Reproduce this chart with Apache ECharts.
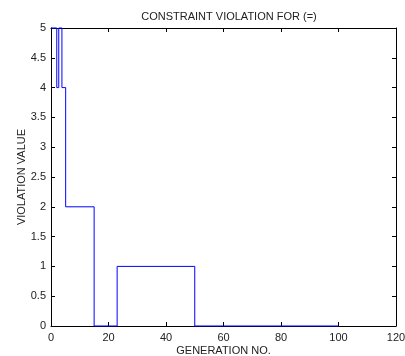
<!DOCTYPE html>
<html><head><meta charset="utf-8">
<script src="https://cdn.jsdelivr.net/npm/echarts@6/dist/echarts.min.js"></script>
<style>html,body{margin:0;padding:0;background:#fff}#c{width:405px;height:356px}</style>
</head><body><div id="c"></div>
<script>
var titleText = "CONSTRAINT VIOLATION FOR (=)";
var xName = "GENERATION NO.";
var yName = "VIOLATION VALUE";
var generations = [0, 2, 2.7, 3.8, 5.1, 15, 23, 50, 100];
var violations = [5, 4, 5, 4, 2, 0, 1, 0, 0];
var xTicks = [0, 20, 40, 60, 80, 100, 120];
var yTicks = [0, 0.5, 1, 1.5, 2, 2.5, 3, 3.5, 4, 4.5, 5];

var font = "Liberation Sans, Arial, sans-serif";
var txt = "#222";
var pts = generations.map(function (g, i) { return [g, violations[i]]; });
var chart = echarts.init(document.getElementById('c'));
var axLine = {show: true, onZero: false, lineStyle: {color: '#000', width: 1}};
var tick = {show: true, inside: true, length: 4, lineStyle: {color: '#000'}};
chart.setOption({
  animation: false,
  title: {text: titleText, left: 224, top: 6, textAlign: 'center',
    textStyle: {fontFamily: font, fontSize: 11, fontWeight: 'normal', color: txt}},
  grid: {left: 51, right: 9, top: 28, bottom: 30, containLabel: false, outerBoundsMode: 'none'},
  xAxis: [{
    type: 'value', min: 0, max: 120, interval: 20, position: 'bottom',
    name: xName, nameLocation: 'middle', nameGap: 19, nameMoveOverlap: false,
    nameTextStyle: {fontFamily: font, fontSize: 11, color: txt},
    axisLine: axLine, axisTick: tick, splitLine: {show: false},
    axisLabel: {fontFamily: font, fontSize: 11, color: txt, margin: 6,
      formatter: function (v) { return xTicks.indexOf(v) >= 0 ? String(v) : ''; }}
  }, {
    type: 'value', min: 0, max: 120, interval: 20, position: 'top',
    axisLine: axLine, axisTick: tick, splitLine: {show: false}, axisLabel: {show: false}
  }],
  yAxis: [{
    type: 'value', min: 0, max: 5, interval: 0.5, position: 'left',
    name: yName, nameLocation: 'middle', nameGap: 24, nameMoveOverlap: false,
    nameTextStyle: {fontFamily: font, fontSize: 11, color: txt},
    axisLine: axLine, axisTick: tick, splitLine: {show: false},
    axisLabel: {fontFamily: font, fontSize: 11, color: txt, margin: 5,
      formatter: function (v) { return yTicks.indexOf(v) >= 0 ? String(v) : ''; }}
  }, {
    type: 'value', min: 0, max: 5, interval: 0.5, position: 'right',
    axisLine: axLine, axisTick: tick, splitLine: {show: false}, axisLabel: {show: false}
  }],
  series: [{
    type: 'line', step: 'end', data: pts, showSymbol: false, symbol: 'none',
    lineStyle: {color: '#0000ff', width: 1}, clip: false, z: 1
  }]
});
</script></body></html>
